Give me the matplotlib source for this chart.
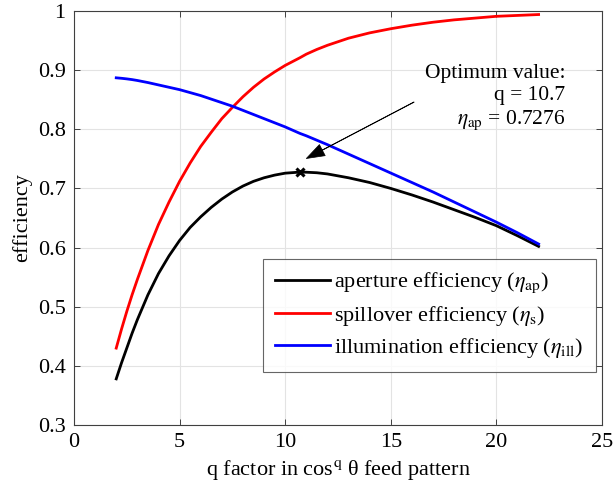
import matplotlib
matplotlib.use("Agg")
import matplotlib.pyplot as plt

plt.rcParams['font.family'] = ['Liberation Serif', 'DejaVu Serif']
plt.rcParams['mathtext.fontset'] = 'stix'

# ---- data ----
q = [2, 2.25, 2.5, 2.75, 3, 3.5, 4, 4.5, 5, 5.5, 6, 6.5, 7, 7.5, 8, 8.5, 9, 9.5, 10,
     10.7, 11, 11.5, 12, 13, 14, 15, 16, 17, 18, 19, 20, 21, 22]
eta_ap = [0.378, 0.405, 0.430, 0.455, 0.478, 0.520, 0.556, 0.586, 0.612, 0.634, 0.652,
          0.668, 0.682, 0.694, 0.704, 0.712, 0.718, 0.7225, 0.7258,
          0.7276, 0.7274, 0.7265, 0.7245, 0.718, 0.710, 0.700, 0.689, 0.677, 0.664,
          0.651, 0.637, 0.620, 0.602]
eta_s = [0.430, 0.462, 0.492, 0.520, 0.546, 0.595, 0.639, 0.677, 0.712, 0.743, 0.771,
         0.795, 0.818, 0.837, 0.855, 0.871, 0.885, 0.897, 0.908,
         0.921, 0.927, 0.935, 0.942, 0.954, 0.963, 0.970, 0.976, 0.981, 0.985,
         0.988, 0.991, 0.9925, 0.994]
eta_ill = [0.887, 0.8862, 0.8852, 0.884, 0.8825, 0.879, 0.875, 0.871, 0.867, 0.862, 0.857,
           0.851, 0.845, 0.839, 0.832, 0.825, 0.818, 0.811, 0.804,
           0.793, 0.789, 0.7815, 0.774, 0.758, 0.742, 0.726, 0.710, 0.694, 0.677,
           0.660, 0.643, 0.625, 0.606]
q_opt = 10.7
eta_opt = 0.7276

legend_labels = [r"aperture efficiency ($\eta_{\mathrm{ap}}$)",
                 r"spillover efficiency ($\eta_{\mathrm{s}}$)",
                 r"illumination efficiency ($\eta_{\mathrm{ill}}$)"]
xticks = [0, 5, 10, 15, 20, 25]
yticks = [0.3, 0.4, 0.5, 0.6, 0.7, 0.8, 0.9, 1.0]
yticklabels = ['0.3', '0.4', '0.5', '0.6', '0.7', '0.8', '0.9', '1']

fig = plt.figure(figsize=(6.13, 4.95), dpi=100)
ax = fig.add_axes([0.1207, 0.1414, 0.8613, 0.8364])

ax.plot(q, eta_ap, color='black', lw=2.0, label=legend_labels[0])
ax.plot(q, eta_s, color='#ff0000', lw=2.0, label=legend_labels[1])
ax.plot(q, eta_ill, color='#0000ff', lw=2.0, label=legend_labels[2])
ax.plot([q_opt], [eta_opt], marker='x', color='black', ms=6, mew=2.2, ls='none')

ax.annotate('', xy=(q_opt + 0.3, eta_opt + 0.023), xytext=(16.1, 0.846),
            arrowprops=dict(facecolor='black', edgecolor='black', width=0.3,
                            headwidth=9, headlength=13, shrink=0, lw=0.5))
ax.text(23.25, 0.853, "Optimum value:\nq = 10.7\n" + r"$\eta_{\mathrm{ap}}$ = 0.7276",
        ha='right', va='center', fontsize=15.5, linespacing=1.2)

ax.set_xlim(0, 25)
ax.set_ylim(0.3, 1.0)
ax.set_xticks(xticks)
ax.set_yticks(yticks)
ax.set_yticklabels(yticklabels)
ax.tick_params(direction='in', top=True, right=True, labelsize=16, length=4,
               color='0.25', width=0.7, pad=6)
for s in ax.spines.values():
    s.set_color('0.25')
    s.set_linewidth(0.8)
ax.grid(True, color='#e3e3e3', lw=0.8)
ax.set_axisbelow(True)

ax.set_xlabel(r"q factor in cos$^{\mathrm{q}}$ θ feed pattern", fontsize=16, labelpad=4)
ax.set_ylabel("efficiency", fontsize=16, labelpad=4)

leg = ax.legend(loc='lower right', bbox_to_anchor=(0.988, 0.128), fontsize=16,
                frameon=True, fancybox=False, edgecolor='0.25', handlelength=2.45,
                handletextpad=0.2, labelspacing=0.37, borderpad=0.55, borderaxespad=0)
leg.get_frame().set_linewidth(0.8)

fig.savefig('out.png', dpi=100)
